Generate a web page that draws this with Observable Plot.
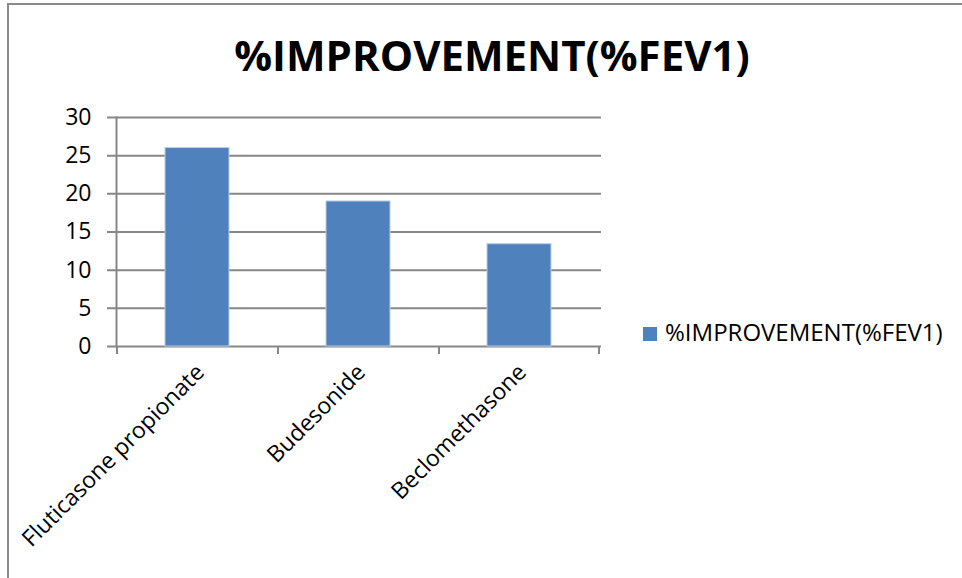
<!DOCTYPE html>
<html>
<head>
<meta charset="utf-8">
<script src="https://cdn.jsdelivr.net/npm/d3@7"></script>
<script src="https://cdn.jsdelivr.net/npm/@observablehq/plot@0.6"></script>
<style>
  html, body { margin: 0; padding: 0; background: #fff; }
  #wrap { position: relative; width: 962px; height: 578px; overflow: hidden; font-family: "Open Sans", Lato, sans-serif; }
  #border { position: absolute; left: 7px; top: 3px; width: 980px; height: 600px; border-left: 2px solid #8a8a8a; border-top: 2px solid #8a8a8a; }
  #title { position: absolute; left: 0; width: 984px; top: 34px; line-height: 42px; text-align: center; font-weight: 700; font-size: 42px; color: #000; white-space: nowrap; }
  #legsw { position: absolute; left: 643px; top: 327px; width: 14px; height: 14px; background: #4F81BD; }
  #legtext { position: absolute; left: 665px; top: 319.7px; font-size: 24px; line-height: 24px; color: #000; white-space: nowrap; }
  #chart { position: absolute; left: 0; top: 0; }
</style>
</head>
<body>
<div id="wrap">
  <div id="chart"></div>
  <div id="border"></div>
  <div id="title"></div>
  <div id="legsw"></div>
  <div id="legtext"></div>
</div>
<script>
const titleText = "%IMPROVEMENT(%FEV1)";
const seriesName = "%IMPROVEMENT(%FEV1)";
const categories = ["Fluticasone propionate", "Budesonide", "Beclomethasone"];
const values = [26, 19, 13.4];
const yTicks = [0, 5, 10, 15, 20, 25, 30];

const data = categories.map((c, i) => ({name: c, value: values[i]}));

document.getElementById("title").textContent = titleText;
document.getElementById("legtext").textContent = seriesName;

const gridColor = "#878787";

const chart = Plot.plot({
  width: 962,
  height: 578,
  marginLeft: 116,
  marginRight: 361,
  marginTop: 117,
  marginBottom: 232,
  style: {fontFamily: "'Open Sans', Lato, sans-serif", background: "transparent", color: "#000"},
  x: {domain: categories, paddingInner: 0.6, paddingOuter: 0.3},
  y: {domain: [0, 30]},
  marks: [
    Plot.ruleY(yTicks, {stroke: gridColor, strokeWidth: 2, insetLeft: -9}),
    Plot.frame({anchor: "left", stroke: gridColor, strokeWidth: 2}),
    Plot.barY(data, {x: "name", y: "value", fill: "#4F81BD", stroke: "#B9CDE5", strokeWidth: 1}),
    Plot.axisY({ticks: yTicks, tickSize: 0, tickPadding: 25, fontSize: 23, label: null}),
    Plot.axisX({tickSize: 0, tickRotate: -45, tickPadding: 22, fontSize: 23, label: null, dx: 3})
  ]
});
document.getElementById("chart").appendChild(chart);

// category boundary tick marks on the x axis, from Plot's x scale
const sx = chart.scale("x");
const sy = chart.scale("y");
const bw = sx.bandwidth;
const step = bw / (1 - sx.paddingInner);
const centers = categories.map(c => sx.apply(c) + bw / 2);
const bounds = centers.map(c => c - step / 2).concat([centers[centers.length - 1] + step / 2]);
const y0 = sy.apply(0);
d3.select(chart).append("g")
  .attr("stroke", gridColor).attr("stroke-width", 2)
  .selectAll("line").data(bounds).join("line")
  .attr("x1", d => d).attr("x2", d => d)
  .attr("y1", y0).attr("y2", y0 + 8);
</script>
</body>
</html>
